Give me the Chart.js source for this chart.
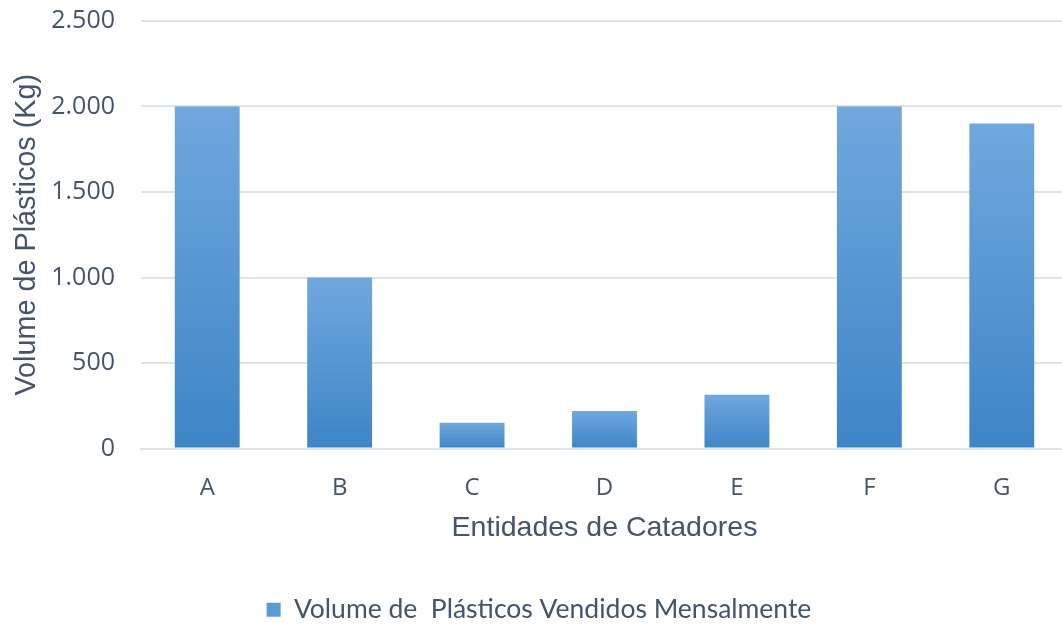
<!DOCTYPE html>
<html lang="pt-BR">
<head>
<meta charset="utf-8">
<title>Volume de Plásticos Vendidos Mensalmente</title>
<script src="https://cdn.jsdelivr.net/npm/chart.js@4"></script>
<style>
  html, body { margin: 0; padding: 0; background: #fff; overflow: hidden; }
  #wrap { width: 1070px; height: 633px; }
</style>
</head>
<body>
<div id="wrap"><canvas id="plasticChart" width="1070" height="633"></canvas></div>
<script>
// entities and monthly plastic volume (kg)
const entidades = ["A", "B", "C", "D", "E", "F", "G"];
const volumeKg = [2000, 1000, 150, 220, 315, 2000, 1900];
const serieNome = "Volume de  Plásticos Vendidos Mensalmente";
const eixoY = "Volume de Plásticos (Kg)";
const eixoX = "Entidades de Catadores";

const textColor = "#44546a";
const gridColor = "#dfe3ea";

// vertical gradient per bar: lighter top, deeper bottom
function barFill(ctx) {
  const chart = ctx.chart;
  const area = chart.chartArea;
  if (!area || ctx.type !== "data") return "#5b9bd5";
  const y = chart.scales.y;
  const top = y.getPixelForValue(ctx.raw);
  const bottom = y.getPixelForValue(0);
  if (!isFinite(top) || bottom - top < 1) return "#5b9bd5";
  const g = chart.ctx.createLinearGradient(0, top, 0, bottom);
  g.addColorStop(0, "#70a8de");
  g.addColorStop(1, "#3d85c6");
  return g;
}

document.addEventListener("DOMContentLoaded", () => {
  const el = document.getElementById("plasticChart");
  new Chart(el, {
    type: "bar",
    data: {
      labels: entidades,
      datasets: [{
        label: serieNome,
        data: volumeKg,
        backgroundColor: barFill,
        borderWidth: 0,
        barPercentage: 0.49,
        categoryPercentage: 1
      }]
    },
    options: {
      responsive: false,
      animation: false,
      layout: { autoPadding: false, padding: { left: 10, right: 2, top: 21, bottom: 0 } },
      scales: {
        y: {
          min: 0,
          max: 2500,
          afterFit: scale => {
            scale.width = 131;
            // tick padding is horizontal only here
            scale.paddingTop = 0;
            scale.paddingBottom = 0;
          },
          ticks: {
            stepSize: 500,
            padding: 26,
            color: textColor,
            font: { family: "'Open Sans', sans-serif", size: 25 },
            callback: v => v.toLocaleString("pt-BR")
          },
          grid: { color: gridColor, lineWidth: 2, drawTicks: false },
          border: { display: false },
          title: {
            display: true,
            text: eixoY,
            color: textColor,
            font: { family: "'Liberation Sans', Arial, sans-serif", size: 28.8 },
            padding: { top: 0, bottom: 0 }
          }
        },
        x: {
          afterFit: scale => { scale.height = 146; },
          ticks: {
            padding: 25,
            color: textColor,
            font: { family: "'Open Sans', sans-serif", size: 24 }
          },
          grid: { display: false, drawTicks: false },
          border: { display: true, color: gridColor, width: 2 },
          title: {
            display: true,
            text: eixoX,
            color: textColor,
            font: { family: "'Liberation Sans', Arial, sans-serif", size: 28.5 },
            padding: { top: 6, bottom: 49 }
          }
        }
      },
      plugins: {
        tooltip: { enabled: false },
        legend: {
          position: "bottom",
          labels: {
            color: textColor,
            font: { family: "Lato, sans-serif", size: 26.5 },
            boxWidth: 14,
            boxHeight: 14,
            padding: 2,
            generateLabels: chart => chart.data.datasets.map((ds, i) => ({
              text: ds.label,
              fillStyle: "#5b9bd5",
              strokeStyle: "#5b9bd5",
              lineWidth: 0,
              fontColor: textColor,
              datasetIndex: i
            }))
          }
        }
      }
    }
  });
});
</script>
</body>
</html>
